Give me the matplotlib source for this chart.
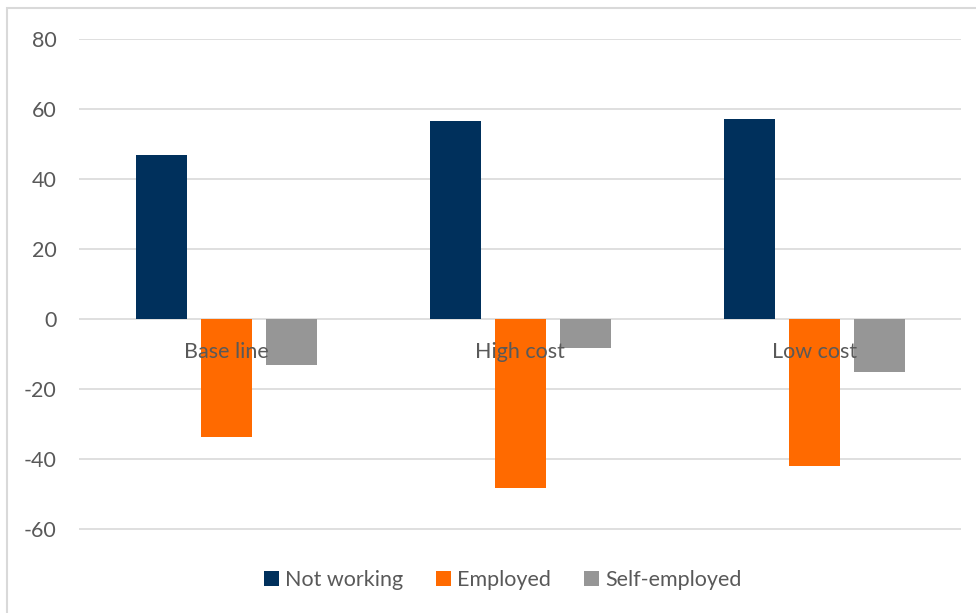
import matplotlib
matplotlib.use("Agg")
import matplotlib.pyplot as plt
import numpy as np
from matplotlib.patches import Rectangle

# Chart data
categories = ["Base line", "High cost", "Low cost"]
series_names = ["Not working", "Employed", "Self-employed"]
not_working = [47.0, 56.7, 57.1]
employed = [-33.7, -48.3, -42.0]
self_employed = [-13.1, -8.3, -15.1]
y_ticks = [-60, -40, -20, 0, 20, 40, 60, 80]

colors = ["#00305C", "#FF6A00", "#969696"]
text_col = "#595959"
grid_col = "#D9D9D9"

plt.rcParams["font.family"] = ["Lato", "DejaVu Sans"]
plt.rcParams["axes.unicode_minus"] = False

fig = plt.figure(figsize=(9.76, 6.13), dpi=100)
ax = fig.add_axes([0.081, 0.080, 0.904, 0.856])

x = np.arange(len(categories))
width = 0.173
step = 0.221
for i, (name, vals) in enumerate(zip(series_names, [not_working, employed, self_employed])):
    ax.bar(x + (i - 1) * step, vals, width, color=colors[i], label=name, zorder=3)

ax.set_xlim(-0.5, 2.5)
ax.set_ylim(-70, 80)
ax.set_yticks(y_ticks)
ax.yaxis.grid(True, color=grid_col, linewidth=1.2, zorder=0)
ax.tick_params(axis="y", length=0, labelsize=15.5, labelcolor=text_col, pad=16)
ax.set_xticks([])
for s in ax.spines.values():
    s.set_visible(False)

# category labels sit on the zero line, as in the original
for xi, cat in zip(x, categories):
    ax.text(xi, -9.3, cat, ha="center", va="center", fontsize=15.5, color=text_col, zorder=4)

fig.legend(loc="center", bbox_to_anchor=(0.515, 1 - 580 / 613), ncol=3, frameon=False,
           fontsize=15.5, labelcolor=text_col, handlelength=0.7, handleheight=0.7,
           handletextpad=0.3, columnspacing=1.5)

# outer chart border (cropped on right and bottom)
fig.patches.append(Rectangle((7 / 976, -0.1), 1.2, 1 - 8 / 613 + 0.1, transform=fig.transFigure,
                             fill=False, edgecolor=grid_col, linewidth=1.5))

fig.savefig("out.png", dpi=100)
